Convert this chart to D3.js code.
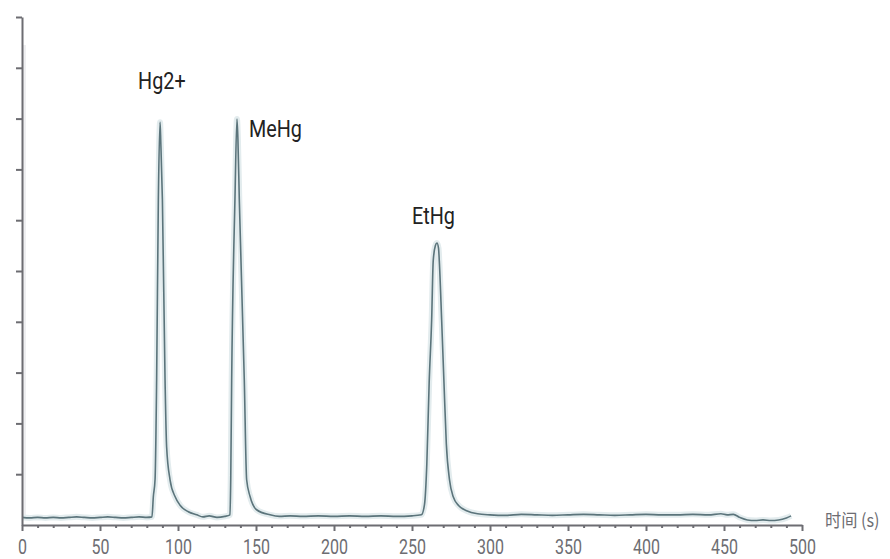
<!DOCTYPE html>
<html>
<head>
<meta charset="utf-8">
<script src="https://cdn.jsdelivr.net/npm/d3@7"></script>
<style>
  body { margin: 0; background: #fff; }
  svg { display: block; }
</style>
</head>
<body>
<div id="chart"></div>
<script>
// Chromatogram data (time in s, signal in arbitrary units, 0-10 scale)
const times = [
  0, 5, 10, 15, 20, 25, 30, 35, 40, 45, 50, 55, 60, 65, 70, 75, 80, 83.3,
  84.2, 85.3, 86.3, 87.4, 88.5, 89.0, 90.0, 91.7, 92.7, 94.9, 98.1, 101.3, 106.6, 112, 116, 120, 125, 130,
  133.3, 133.8, 134.4, 136.5, 137.8, 138.4, 139.3, 142.5, 144, 146.2, 150.4, 159, 165, 172,
  180, 190, 200, 210, 220, 230, 240, 250, 256,
  258, 259.5, 261, 262.6, 263.6, 265, 266, 267, 267.5, 269, 270.5, 272, 274, 276.5, 280, 285, 292, 300,
  310, 320, 330, 340, 350, 360, 370, 380, 390, 400, 410, 420, 430, 440, 448, 452, 456,
  460, 465, 470, 475, 480, 485, 490, 493
];
const signal = [
  0.15, 0.14, 0.15, 0.14, 0.15, 0.14, 0.15, 0.16, 0.15, 0.14, 0.15, 0.16, 0.15, 0.14, 0.15, 0.16, 0.15, 0.16,
  0.56, 0.9, 2.85, 6.4, 7.93, 7.5, 6.4, 2.85, 1.54, 0.89, 0.56, 0.39, 0.26, 0.2, 0.16, 0.18, 0.15, 0.17,
  0.2, 0.89, 2.85, 6.4, 7.99, 7.6, 6.4, 2.85, 0.89, 0.56, 0.3, 0.2, 0.17, 0.18,
  0.17, 0.18, 0.17, 0.18, 0.17, 0.18, 0.17, 0.18, 0.2,
  0.4, 1.2, 2.8, 4.04, 5.2, 5.5, 5.55, 5.45, 5.2, 4.04, 2.8, 1.6, 0.9, 0.55, 0.38, 0.28, 0.22, 0.2,
  0.19, 0.21, 0.2, 0.19, 0.2, 0.21, 0.2, 0.19, 0.2, 0.21, 0.2, 0.2, 0.21, 0.2, 0.22, 0.2, 0.21,
  0.15, 0.1, 0.09, 0.1, 0.09, 0.1, 0.14, 0.18
];

// Peak labels (anchored in data coordinates)
const peakNames = ["Hg2+", "MeHg", "EtHg"];
const labelTimes = [74.4, 145.5, 250];
const labelLevels = [8.58, 7.64, 5.93];

const xMajorTicks = [0, 50, 100, 150, 200, 250, 300, 350, 400, 450, 500];
const xMinorTicks = d3.range(0, 501, 10).filter(d => d % 50 !== 0);
const yTicks = [1, 2, 3, 4, 5, 6, 7, 8, 9, 10];
const xTitle = "时间 (s)";

const canvas = { w: 890, h: 559 };
const plot = { left: 22, right: 802, top: 17, bottom: 525 };
const axisColor = "#6d6d72";
const font = "Roboto, sans-serif";

const x = d3.scaleLinear().domain([0, 500]).range([plot.left, plot.right]);
const y = d3.scaleLinear().domain([0, 10]).range([plot.bottom, plot.top]);

const svg = d3.select("#chart")
  .append("svg")
  .attr("width", canvas.w)
  .attr("height", canvas.h);

// faint shade along the y axis
svg.append("rect")
  .attr("x", plot.left + 1)
  .attr("y", 45)
  .attr("width", 3)
  .attr("height", plot.bottom - 8 - 45)
  .attr("fill", "#efeff1");

// trace
const data = times.map((t, i) => [t, signal[i]]);
const line = d3.line()
  .x(d => x(d[0]))
  .y(d => y(d[1]))
  .curve(d3.curveMonotoneX);

svg.append("path")
  .datum(data)
  .attr("d", line)
  .attr("fill", "none")
  .attr("stroke", "#e3ecee")
  .attr("stroke-width", 6)
  .attr("stroke-linejoin", "round");

svg.append("path")
  .datum(data)
  .attr("d", line)
  .attr("fill", "none")
  .attr("stroke", "#5b747b")
  .attr("stroke-width", 1.6)
  .attr("stroke-linejoin", "round");

// y axis
svg.append("g")
  .attr("transform", `translate(${plot.left},0)`)
  .call(d3.axisLeft(y).tickValues(yTicks).tickSize(6).tickSizeOuter(0).tickFormat(""));

// x axis: minor ticks
svg.append("g")
  .attr("transform", `translate(0,${plot.bottom})`)
  .call(d3.axisBottom(x).tickValues(xMinorTicks).tickSize(3).tickSizeOuter(0).tickFormat(""))
  .call(g => g.select(".domain").remove());

// x axis: major ticks + labels
const xAxis = svg.append("g")
  .attr("transform", `translate(0,${plot.bottom})`)
  .call(d3.axisBottom(x).tickValues(xMajorTicks).tickSize(6).tickSizeOuter(0).tickPadding(9).tickFormat(d3.format("d")));

svg.selectAll(".domain, .tick line")
  .attr("stroke", axisColor)
  .attr("stroke-width", 2);

// condensed look: squeeze the glyphs horizontally
xAxis.selectAll("text")
  .attr("fill", axisColor)
  .attr("transform", "scale(0.8,1)")
  .style("font-family", font)
  .style("font-size", "20px");

// axis title
svg.append("text")
  .attr("transform", `translate(825,${plot.bottom - 3}) scale(0.9,1)`)
  .attr("dominant-baseline", "middle")
  .attr("fill", axisColor)
  .style("font-family", "'Noto Sans CJK SC', sans-serif")
  .style("font-size", "18px")
  .text(xTitle);

// peak labels
svg.selectAll(".peak-label")
  .data(peakNames)
  .enter()
  .append("text")
  .attr("class", "peak-label")
  .attr("transform", (d, i) => `translate(${x(labelTimes[i])},${y(labelLevels[i])}) scale(0.86,1)`)
  .attr("fill", "#222")
  .style("font-family", font)
  .style("font-size", "23px")
  .text(d => d);
</script>
</body>
</html>
